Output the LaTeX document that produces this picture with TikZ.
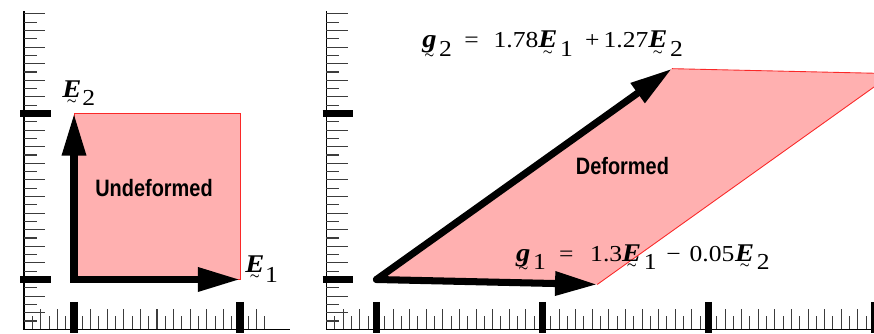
\documentclass[tikz,border=0pt]{standalone}
\usepackage{amsmath}
\usepackage{fontspec}
\setmainfont{Liberation Serif}
\newfontfamily\formulafont[FakeStretch=1.12]{Liberation Serif}
\newfontfamily\narrowsans[FakeStretch=0.84]{Liberation Sans}
\usepackage{tikz}
\usetikzlibrary{arrows.meta, positioning}
\definecolor{sheetpink}{RGB}{255,176,176}
\definecolor{edgered}{RGB}{250,40,40}
\definecolor{tickgray}{RGB}{60,60,60}
% bold italic letter with a tilde under it
\newcommand{\tvec}[2][3.6pt]{\leavevmode\setbox0=\hbox{\fontsize{14.5}{15}\selectfont\textbf{\textit{#2}}}\rlap{\hbox to\wd0{\hss\raisebox{-#1}{\tiny$\boldsymbol{\sim}$}\hss}}\box0}
\newcommand{\lowsub}[2][1.5pt]{\kern#1\raisebox{-5pt}{#2}}
\tikzset{
  axisline/.style={line width=0.8pt, black},
  minortick/.style={line width=0.6pt, tickgray},
  majortick/.style={line width=4pt, black},
  basevec/.style={-{Triangle[length=24pt,width=13pt]}, line width=4pt},
  sheet/.style={fill=sheetpink, draw=edgered, line width=0.5pt},
  formula/.style={font=\formulafont\fontsize{13}{15}\selectfont, inner sep=0pt, anchor=base west},
  sheetlabel/.style={font=\narrowsans\bfseries\fontsize{13.5}{16}\selectfont},
}
\begin{document}
\begin{tikzpicture}[x=3.32cm, y=3.32cm]
\useasboundingbox (-0.4458,-0.3283) rectangle (4.8193,1.6837);
\clip (-0.4458,-0.3283) rectangle (4.8193,1.6837);
% rulers of both panels
\foreach \sx/\xend/\kend/\mend in {0/1.3/23/1, 1.822/3.2/60/3} {
  \begin{scope}[shift={(\sx,0)}]
    \draw[axisline] (-0.301,1.615) -- (-0.301,-0.30) -- (\xend,-0.30);
    \foreach \k in {-5,...,32} {
      \ifodd\k\relax \draw[minortick] (-0.301,\k/20) -- ++(0.078,0);
      \else \draw[minortick] (-0.301,\k/20) -- ++(0.127,0); \fi
    }
    \foreach \k in {-5,...,\kend} {
      \ifodd\k\relax \draw[minortick] (\k/20,-0.30) -- ++(0,0.078);
      \else \draw[minortick] (\k/20,-0.30) -- ++(0,0.12); \fi
    }
    \foreach \m in {0,1} \draw[majortick] (-0.325,\m) -- (-0.139,\m);
    \foreach \m in {0,...,\mend} \draw[majortick] (\m,-0.1355) -- (\m,-0.322);
  \end{scope}
}
% undeformed
\coordinate (O1) at (0,0);
\coordinate (e1) at (1,0);
\coordinate (e2) at (0,1);
\filldraw[sheet] (O1) rectangle (1,1);
\draw[basevec, line cap=rect] (O1) -- (e1);
\draw[basevec, line cap=rect] (O1) -- (e2);
\node[sheetlabel] (undef) at (0.482,0.551) {Undeformed};
\node[formula] (e2lab) at (-0.072,1.099) {\tvec{E}\lowsub[0.5pt]{2}};
\node[formula] (e1lab) at (1.03,0.045) {\tvec{E}\lowsub[0.5pt]{\raisebox{-1pt}{1}}};
% deformed
\begin{scope}[shift={(1.822,0)}]
\coordinate (O2) at (0,0);
\coordinate (g1) at (1.33,-0.03);
\coordinate (g2) at (1.78,1.27);
\coordinate (g12) at (3.11,1.24);
\fill[sheetpink] (O2) -- (g1) -- (g12) -- (g2) -- cycle;
\draw[edgered, line width=0.5pt] (g1) -- (g12) -- (g2);
\draw[basevec, line cap=round] (O2) -- (g1);
\draw[basevec, line cap=round] (O2) -- (g2);
\node[sheetlabel] (def) at (1.482,0.684) {Deformed};
\node[formula] (g2lab) at (0.274,1.395) {\tvec[5.3pt]{g}\lowsub{2}\kern7pt=\kern8.5pt1.78\tvec{E}\lowsub{1}\kern7pt+\kern2.3pt1.27\tvec{E}\lowsub{2}};
\node[formula] (g1lab) at (0.840,0.1114) {\tvec[5.3pt]{g}\lowsub{1}\kern7.5pt=\kern9.5pt1.3\tvec{E}\lowsub{1}\kern5.5pt−\kern5pt0.05\kern0.5pt\tvec{E}\lowsub{2}};
\end{scope}
\end{tikzpicture}
\end{document}
